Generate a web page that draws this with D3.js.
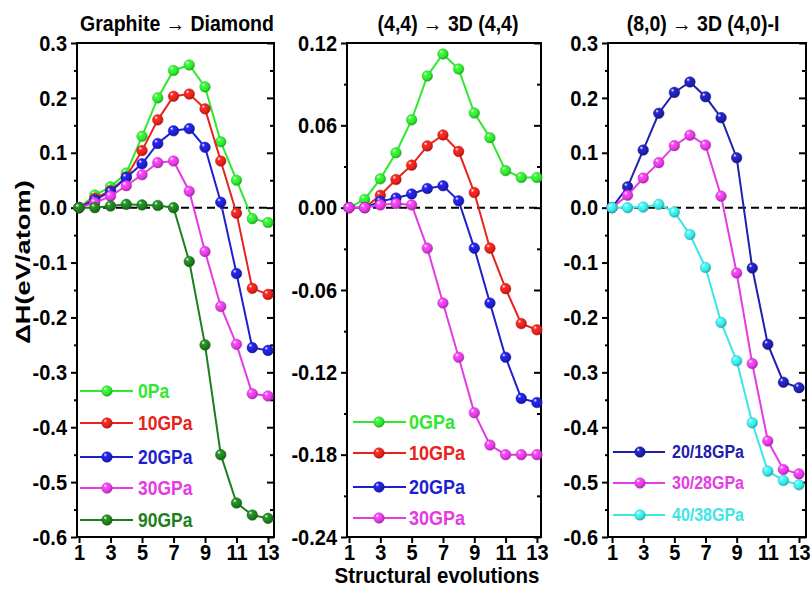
<!DOCTYPE html>
<html>
<head>
<meta charset="utf-8">
<script src="https://cdn.jsdelivr.net/npm/d3@7"></script>
<style>
  body { margin: 0; background: #fff; }
</style>
</head>
<body>
<div id="chart"></div>
<script>
const width = 810;
const height = 589;
const plotTop = 43;
const plotBottom = 537;
const stretch = 1.12; // the source picture is a bit taller than wide
const font = "'Liberation Sans', Arial, sans-serif";

// x values (structural evolution steps) and tick labels
const steps = [1, 2, 3, 4, 5, 6, 7, 8, 9, 10, 11, 12, 13];
const xTickValues = [1, 3, 5, 7, 9, 11, 13];

// Graphite -> Diamond
const gdTicks = [-0.6, -0.5, -0.4, -0.3, -0.2, -0.1, 0.0, 0.1, 0.2, 0.3];
const gdLabels = ["0Pa", "10GPa", "20GPa", "30GPa", "90GPa"];
const gd0Pa   = [0, 0.023, 0.038, 0.063, 0.13, 0.20, 0.25, 0.26, 0.22, 0.12, 0.05, -0.02, -0.027];
const gd10GPa = [0, 0.017, 0.031, 0.056, 0.104, 0.16, 0.203, 0.207, 0.18, 0.085, -0.01, -0.147, -0.158];
const gd20GPa = [0, 0.014, 0.029, 0.055, 0.08, 0.117, 0.14, 0.144, 0.11, 0.01, -0.12, -0.255, -0.26];
const gd30GPa = [0, 0.009, 0.021, 0.04, 0.06, 0.082, 0.085, 0.03, -0.08, -0.18, -0.249, -0.339, -0.343];
const gd90GPa = [0, 0, 0.003, 0.006, 0.005, 0.004, 0, -0.098, -0.25, -0.45, -0.538, -0.56, -0.566];

// (4,4) -> 3D (4,4)
const c44Ticks = [-0.24, -0.18, -0.12, -0.06, 0.00, 0.06, 0.12];
const c44Labels = ["0GPa", "10GPa", "20GPa", "30GPa"];
const c44_0GPa  = [0, 0.006, 0.021, 0.040, 0.064, 0.096, 0.112, 0.101, 0.069, 0.051, 0.027, 0.022, 0.022];
const c44_10GPa = [0, 0, 0.009, 0.0205, 0.031, 0.045, 0.053, 0.041, 0.011, -0.0295, -0.059, -0.0845, -0.089];
const c44_20GPa = [0, 0, 0.0046, 0.007, 0.010, 0.014, 0.016, 0.005, -0.0295, -0.0695, -0.109, -0.139, -0.142];
const c44_30GPa = [0, 0, 0.002, 0.003, 0.002, -0.0295, -0.0695, -0.109, -0.1495, -0.173, -0.180, -0.180, -0.180];

// (8,0) -> 3D (4,0)-I
const c80Ticks = [-0.6, -0.5, -0.4, -0.3, -0.2, -0.1, 0.0, 0.1, 0.2, 0.3];
const c80Labels = ["20/18GPa", "30/28GPa", "40/38GPa"];
const c80_20GPa = [0, 0.038, 0.105, 0.172, 0.21, 0.229, 0.202, 0.164, 0.091, -0.11, -0.249, -0.318, -0.328];
const c80_30GPa = [0, 0.0225, 0.054, 0.082, 0.113, 0.132, 0.114, 0.021, -0.119, -0.284, -0.425, -0.477, -0.485];
const c80_40GPa = [0, 0, 0.001, 0.006, -0.008, -0.049, -0.109, -0.209, -0.279, -0.392, -0.48, -0.497, -0.505];

const panels = [
  {
    title: "Graphite \u2192 Diamond", titleX: 177,
    left: 77, right: 274, xDomain: [0.87, 13.38], yDomain: [-0.6, 0.3],
    ticks: gdTicks, decimals: 1,
    labels: gdLabels, values: [gd0Pa, gd10GPa, gd20GPa, gd30GPa, gd90GPa],
    colors: ["#2fe82f", "#e8221c", "#1f1fd0", "#e43be4", "#1f7f1f"],
    legend: { x1: 80, x2: 133, mx: 107, tx: 138, size: 17.5, rows: [391, 423, 457, 488, 520] }
  },
  {
    title: "(4,4) \u2192 3D (4,4)", titleX: 448,
    left: 347, right: 541, xDomain: [0.87, 13.26], yDomain: [-0.24, 0.12],
    ticks: c44Ticks, decimals: 2,
    labels: c44Labels, values: [c44_0GPa, c44_10GPa, c44_20GPa, c44_30GPa],
    colors: ["#2fe82f", "#e8221c", "#1f1fd0", "#e43be4"],
    legend: { x1: 353, x2: 406, mx: 379, tx: 409, size: 18, rows: [422, 453, 487, 518] }
  },
  {
    title: "(8,0) \u2192 3D (4,0)-I", titleX: 703,
    left: 608, right: 806, xDomain: [0.74, 13.45], yDomain: [-0.6, 0.3],
    ticks: c80Ticks, decimals: 1,
    labels: c80Labels, values: [c80_20GPa, c80_30GPa, c80_40GPa],
    colors: ["#2020b0", "#e43be4", "#3ae6e6"],
    legend: { x1: 613, x2: 665, mx: 640, tx: 672, size: 16, rows: [452, 483, 515] }
  }
];

const svg = d3.select("#chart").append("svg")
    .attr("width", width)
    .attr("height", height)
    .style("background", "#fff");

const defs = svg.append("defs");

// shaded ball markers
function sphere(color) {
  const id = "ball" + color.slice(1);
  if (defs.select("#" + id).empty()) {
    const grad = defs.append("radialGradient")
        .attr("id", id)
        .attr("cx", "0.4").attr("cy", "0.38").attr("r", "0.62")
        .attr("fx", "0.32").attr("fy", "0.28");
    grad.append("stop").attr("offset", "0").attr("stop-color", "#ffffff");
    grad.append("stop").attr("offset", "0.28").attr("stop-color", d3.color(color).brighter(0.5));
    grad.append("stop").attr("offset", "0.7").attr("stop-color", color);
    grad.append("stop").attr("offset", "1").attr("stop-color", d3.color(color).darker(0.9));
  }
  return `url(#${id})`;
}

function stretchedText(parent, x, y, str) {
  return parent.append("g")
      .attr("transform", `translate(${x},${y}) scale(1,${stretch})`)
      .append("text")
      .attr("font-family", font)
      .attr("font-weight", "bold")
      .text(str);
}

function styleAxis(sel, size) {
  sel.attr("font-family", font)
     .attr("font-size", size)
     .attr("font-weight", "bold");
  sel.select(".domain").remove();
  sel.selectAll("line").attr("stroke", "#000").attr("stroke-width", 2);
  sel.selectAll("text").attr("fill", "#000").attr("transform", `scale(1,${stretch})`);
}

panels.forEach(p => {
  const x = d3.scaleLinear().domain(p.xDomain).range([p.left, p.right]);
  const y = d3.scaleLinear().domain(p.yDomain).range([plotBottom, plotTop]);
  const g = svg.append("g");

  const minor = p.ticks.slice(1).map((t, i) => (t + p.ticks[i]) / 2);
  const fmt = d => d.toFixed(p.decimals);

  // zero reference line
  g.append("line")
      .attr("x1", p.left).attr("x2", p.right)
      .attr("y1", y(0)).attr("y2", y(0))
      .attr("stroke", "#000")
      .attr("stroke-width", 2)
      .attr("stroke-dasharray", "8,5");

  // left axis, outward ticks
  g.append("g")
      .attr("transform", `translate(${p.left},0)`)
      .call(d3.axisLeft(y).tickValues(p.ticks).tickFormat(fmt).tickSize(6).tickPadding(4))
      .call(a => styleAxis(a, 20));
  g.append("g")
      .attr("transform", `translate(${p.left},0)`)
      .call(d3.axisLeft(y).tickValues(minor).tickFormat("").tickSize(3))
      .call(a => styleAxis(a, 20));

  // right side, inward ticks
  g.append("g")
      .attr("transform", `translate(${p.right},0)`)
      .call(d3.axisLeft(y).tickValues(p.ticks).tickFormat("").tickSize(7))
      .call(a => styleAxis(a, 20));
  g.append("g")
      .attr("transform", `translate(${p.right},0)`)
      .call(d3.axisLeft(y).tickValues(minor).tickFormat("").tickSize(4))
      .call(a => styleAxis(a, 20));

  // bottom axis
  g.append("g")
      .attr("transform", `translate(0,${plotBottom})`)
      .call(d3.axisBottom(x).tickValues(xTickValues).tickSize(6).tickPadding(0))
      .call(a => styleAxis(a, 20));

  // frame
  g.append("rect")
      .attr("x", p.left).attr("y", plotTop)
      .attr("width", p.right - p.left)
      .attr("height", plotBottom - plotTop)
      .attr("fill", "none")
      .attr("stroke", "#000")
      .attr("stroke-width", 2);

  const line = d3.line()
      .x((d, i) => x(steps[i]))
      .y(d => y(d));

  p.values.forEach((vals, k) => {
    const color = p.colors[k];
    g.append("path")
        .datum(vals)
        .attr("fill", "none")
        .attr("stroke", color)
        .attr("stroke-width", 2)
        .attr("d", line);

    g.selectAll(null)
        .data(vals)
        .enter()
        .append("circle")
        .attr("cx", (d, i) => x(steps[i]))
        .attr("cy", d => y(d))
        .attr("r", 5.3)
        .attr("fill", sphere(color))
        .attr("stroke", d3.color(color).darker(0.6))
        .attr("stroke-width", 0.5);

    // legend entry
    const ly = p.legend.rows[k];
    g.append("line")
        .attr("x1", p.legend.x1).attr("x2", p.legend.x2)
        .attr("y1", ly).attr("y2", ly)
        .attr("stroke", color)
        .attr("stroke-width", 2);
    g.append("circle")
        .attr("cx", p.legend.mx).attr("cy", ly)
        .attr("r", 5.3)
        .attr("fill", sphere(color))
        .attr("stroke", d3.color(color).darker(0.6))
        .attr("stroke-width", 0.5);
    stretchedText(g, p.legend.tx, ly, p.labels[k])
        .attr("font-size", p.legend.size)
        .attr("dy", "0.36em")
        .attr("fill", color);
  });

  stretchedText(svg, p.titleX, 31, p.title)
      .attr("font-size", 19.5)
      .attr("text-anchor", "middle")
      .attr("fill", "#000");
});

// axis titles
svg.append("g")
    .attr("transform", `translate(30,262) scale(1,${stretch}) rotate(-90)`)
    .append("text")
    .attr("font-family", font)
    .attr("font-weight", "bold")
    .attr("font-size", 21)
    .attr("text-anchor", "middle")
    .attr("textLength", 146)
    .attr("lengthAdjust", "spacingAndGlyphs")
    .text("\u0394H(eV/atom)");

stretchedText(svg, 437, 583, "Structural evolutions")
    .attr("font-size", 20.5)
    .attr("text-anchor", "middle")
    .attr("fill", "#000");
</script>
</body>
</html>
